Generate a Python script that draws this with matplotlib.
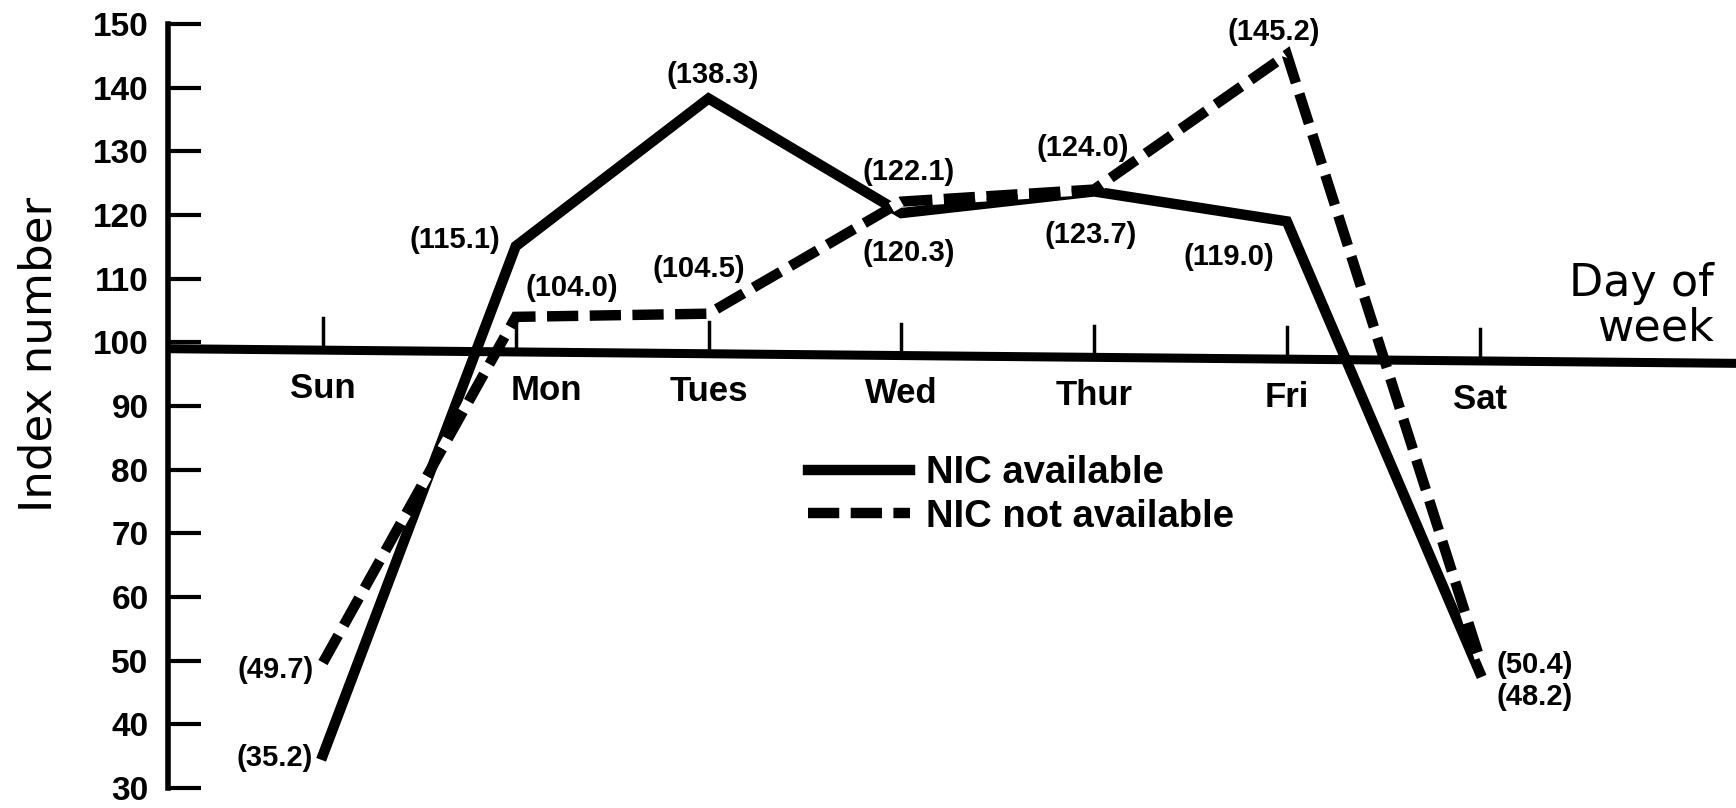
import matplotlib
matplotlib.use("Agg")
import matplotlib.pyplot as plt

days = ['Sun', 'Mon', 'Tues', 'Wed', 'Thur', 'Fri', 'Sat']
nic_available = [35.2, 115.1, 138.3, 120.3, 123.7, 119.0, 48.2]
nic_not_available = [49.7, 104.0, 104.5, 122.1, 124.0, 145.2, 50.4]
y_ticks = list(range(30, 151, 10))

# where each value label sits relative to its point: (dx, dy, ha)
avail_offsets = [(-0.05, -0.5, 'right'), (-0.08, 1.0, 'right'),
                 (0.02, 3.7, 'center'), (0.04, -6.3, 'center'),
                 (-0.02, -6.8, 'center'), (-0.30, -5.6, 'center'),
                 (0.09, -3.9, 'left')]
not_offsets = [(-0.05, -1.2, 'right'), (0.29, 4.6, 'center'),
               (-0.05, 7.0, 'center'), (0.04, 4.6, 'center'),
               (-0.06, 6.5, 'center'), (-0.07, 3.5, 'center'),
               (0.09, -1.1, 'left')]
day_label_shift = [0, 0.16, 0, 0, 0, 0, 0]

W, H = 1736, 808
XMIN, XMAX = -0.804, 7.33
# the day-of-week rule is inked with a slight downward slant
BASE_LEFT, BASE_RIGHT = 99.0, 96.7


def base(xv):
    return BASE_LEFT + (BASE_RIGHT - BASE_LEFT) * (xv - XMIN) / (XMAX - XMIN)


fig = plt.figure(figsize=(W / 100, H / 100), dpi=100)
ax = fig.add_axes([168 / W, 20 / H, 1 - 168 / W, 764 / H])
ax.set_xlim(XMIN, XMAX)
ax.set_ylim(30, 150)

for side in ['top', 'right', 'bottom']:
    ax.spines[side].set_visible(False)
ax.spines['left'].set_linewidth(4)
ax.spines['left'].set_bounds(30, 150)
ax.set_xticks([])
ax.set_yticks(y_ticks)
ax.tick_params(axis='y', direction='in', length=24, width=3, pad=14,
               labelsize=24)
for lab in ax.get_yticklabels():
    lab.set_fontweight('bold')
    lab.set_family('Liberation Sans')

# day axis with its small markers
x = list(range(len(days)))
ax.plot([XMIN, XMAX], [base(XMIN), base(XMAX)], color='black', lw=6.5,
        solid_capstyle='butt', zorder=2)
for i, d in enumerate(days):
    ax.plot([i, i], [base(i), base(i) + 5], color='black', lw=2.5, zorder=2)
    ax.text(i + day_label_shift[i], base(i) - 6, d, ha='center',
            va='center', fontsize=25, fontweight='bold',
            family='Liberation Sans')

ax.plot(x, nic_available, color='black', lw=7.5, solid_joinstyle='miter',
        label='NIC available', zorder=3)
ax.plot(x, nic_not_available, color='black', lw=7.5,
        linestyle=(0, (3, 1.1)), gapcolor='white', dash_capstyle='butt',
        dash_joinstyle='miter', label='NIC not available', zorder=4)

label_font = dict(fontsize=21, fontweight='bold', family='Liberation Sans')
for i, v in enumerate(nic_available):
    dx, dy, ha = avail_offsets[i]
    ax.text(i + dx, v + dy, '(%.1f)' % v, ha=ha, va='center', **label_font)
for i, v in enumerate(nic_not_available):
    dx, dy, ha = not_offsets[i]
    ax.text(i + dx, v + dy, '(%.1f)' % v, ha=ha, va='center', **label_font)

ax.legend(loc='center left', bbox_to_anchor=(808 / W, 1 - 495 / H),
          bbox_transform=fig.transFigure, frameon=False, handlelength=2.67,
          handletextpad=0.43, labelspacing=0.2, borderpad=0,
          borderaxespad=0,
          prop=dict(size=27.5, weight='bold', family='Liberation Sans'))

fig.text(39 / W, 1 - 354 / H, 'Index number', rotation=90, ha='center',
         va='center', fontsize=32.5, family='DejaVu Sans')
fig.text(1714 / W, 1 - 306 / H, 'Day of\nweek', ha='right', va='center',
         multialignment='right', linespacing=1.05, fontsize=32,
         family='DejaVu Sans')

fig.savefig('out.png', dpi=100, facecolor='white')
